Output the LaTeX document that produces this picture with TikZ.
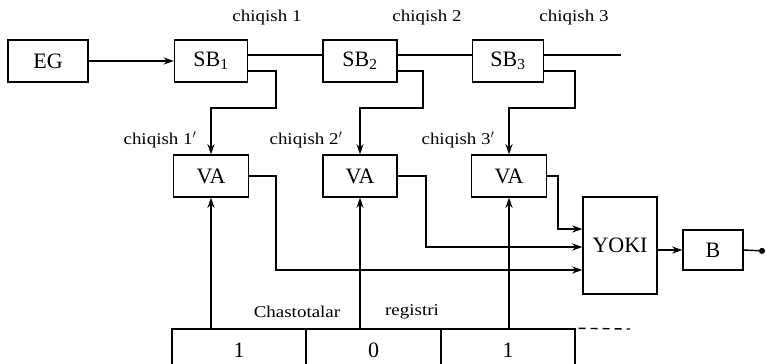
\documentclass[tikz,border=0pt]{standalone}
\usepackage{fontspec}
\setmainfont{Liberation Serif}
\newfontfamily\lblfont{Liberation Serif}[FakeStretch=1.15]
\usetikzlibrary{arrows.meta}
\begin{document}
\begin{tikzpicture}[x=1pt,y=-1pt,
  line width=1.4pt,
  blk/.style={draw,rectangle,inner sep=0pt,font=\fontsize{22}{25}\selectfont},
  lbl/.style={font=\lblfont\fontsize{16.5}{19}\selectfont,inner sep=0pt},
  arr/.style={-{Stealth[length=10pt,width=7pt]}},
  wire/.style={line join=miter}]
\clip (0,0) rectangle (766,364);
\fill[white] (0,0) rectangle (766,364);

% blocks
\node[blk,minimum width=80pt,minimum height=42pt] (eg) at (48,61) {EG};
\node[blk,minimum width=73pt,minimum height=42pt] (sb1) at (211,61) {SB\textsubscript{1}};
\node[blk,minimum width=74pt,minimum height=42pt] (sb2) at (360,61) {SB\textsubscript{2}};
\node[blk,minimum width=71pt,minimum height=42pt] (sb3) at (508,61) {SB\textsubscript{3}};
\node[blk,minimum width=75pt,minimum height=42pt] (va1) at (211,176) {VA};
\node[blk,minimum width=74pt,minimum height=42pt] (va2) at (360,176) {VA};
\node[blk,minimum width=75pt,minimum height=42pt] (va3) at (509,176) {VA};
\node[blk,minimum width=74pt,minimum height=97pt] (yoki) at (620,245.5) {YOKI};
\node[blk,minimum width=60pt,minimum height=40pt] (b) at (713,250) {B};

% frequency register (lower edge runs off the page)
\node[blk,minimum width=134pt,minimum height=42pt] (r1) at (239,350) {1};
\node[blk,minimum width=135pt,minimum height=42pt] (r2) at (373.5,350) {0};
\node[blk,minimum width=134pt,minimum height=42pt] (r3) at (508,350) {1};
\coordinate (rend) at (630,329);
\draw[dashed,dash pattern=on 7pt off 5pt,dash phase=-3pt] (r3.north east) -- (rend);

% output end points
\coordinate (out3) at (621,55);
\coordinate (bout) at (765,251);

% labels
\node[lbl] (l1) at (267,18) {chiqish 1};
\node[lbl] (l2) at (427,18) {chiqish 2};
\node[lbl] (l3) at (574,18) {chiqish 3};
\node[lbl] (l1p) at (160,140) {chiqish 1$'$};
\node[lbl] (l2p) at (306,140) {chiqish 2$'$};
\node[lbl] (l3p) at (458,140) {chiqish 3$'$};
\node[lbl] (lc) at (297,312) {Chastotalar};
\node[lbl] (lr) at (412,312) {registri};

% generator chain
\draw[arr] (eg.east) -- (sb1.west);
\draw ([yshift=6pt]sb1.east) -- ([yshift=6pt]sb2.west);
\draw ([yshift=6pt]sb2.east) -- ([yshift=6pt]sb3.west);
\draw ([yshift=6pt]sb3.east) -- (out3);

% second outputs to the comparators
\draw[arr,wire] ([yshift=-10pt]sb1.east) -| (276,108) -| (va1.north);
\draw[arr,wire] ([yshift=-10pt]sb2.east) -| (423,108) -| (va2.north);
\draw[arr,wire] ([yshift=-10pt]sb3.east) -| (575,108) -| (va3.north);

% register bits to the comparators
\draw[arr] (va1.south |- r1.north) -- (va1.south);
\draw[arr] (va2.south |- r2.north) -- (va2.south);
\draw[arr] (va3.south |- r3.north) -- (va3.south);

% comparators to the OR gate
\draw[arr,wire] (va1.east) -| (276,270) -- (yoki.west |- 0,270);
\draw[arr,wire] (va2.east) -| (426,247) -- (yoki.west |- 0,247);
\draw[arr,wire] (va3.east) -| (558,229) -- (yoki.west |- 0,229);

% OR gate to output block
\draw[arr] (yoki.east |- b.west) -- (b.west);
\draw[-{Circle[length=6pt]}] (b.east) -- (bout);
\end{tikzpicture}
\end{document}
